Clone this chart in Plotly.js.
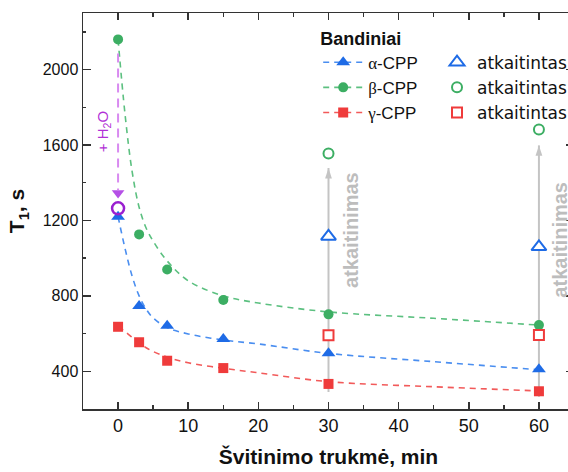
<!DOCTYPE html>
<html>
<head>
<meta charset="utf-8">
<script src="https://cdn.plot.ly/plotly-3.0.1.min.js"></script>
<style>
html, body { margin:0; padding:0; overflow:hidden; background:#fff; width:568px; height:472px; }
#chart { width:600px; height:472px; }
</style>
</head>
<body>
<div id="chart"></div>
<script>
// Irradiation time (min)
var timeMin = [0, 3, 7, 15, 30, 60];
// T1 (s) for each sample
var alphaT1 = [1220, 746, 642, 571, 495, 411];
var betaT1  = [2160, 1126, 940, 778, 702, 645];
var gammaT1 = [636, 554, 456, 417, 333, 294];

// Annealed samples
var annealTime = [30, 60];
var alphaAnneal = [1115, 1060];
var betaAnneal  = [1555, 1682];
var gammaAnneal = [591, 592];

// Fitted curves
var fitX     = [0, 1, 2, 3, 4, 5, 7, 10, 15, 20, 30, 45, 60];
var alphaFit = [1220, 1050, 905, 800, 730, 683, 632, 598, 566, 545, 495, 451, 408];
var betaFit  = [2160, 1760, 1460, 1270, 1160, 1090, 985, 880, 800, 762, 715, 681, 645];
var gammaFit = [636, 610, 580, 550, 525, 505, 475, 445, 416, 392, 345, 318, 296];

// Water addition at t = 0
var waterX = [0, 0];
var waterLine = [2085, 1362];
var waterArrowT1 = [1346];
var waterT1 = [1264];

// Annealing arrows
var annealArrowX = [30, 60];
var annealArrowFrom = [290, 265];
var annealArrowTo = [1478, 1598];

var xTicks = [0, 10, 20, 30, 40, 50, 60];
var yTicks = [400, 800, 1200, 1600, 2000];

var cBlue = '#1e6be6', cBlueL = '#4a8ef0';
var cGreen = '#3cae63', cGreenL = '#5cc080';
var cRed = '#ef3b3b', cRedL = '#f25a5a';
var cGray = '#c4c4c4';

var traces = [];
// fit curves
[[alphaFit, cBlueL], [betaFit, cGreenL], [gammaFit, cRedL]].forEach(function(p){
  traces.push({x: fitX, y: p[0], mode:'lines', line:{color:p[1], width:1.6, dash:'6px,5px', shape:'spline'}, showlegend:false, hoverinfo:'skip'});
});
// annealing arrows (lines)
annealArrowX.forEach(function(xv, i){
  traces.push({x:[xv, xv], y:[annealArrowFrom[i], annealArrowTo[i]], mode:'lines', line:{color:cGray, width:2}, showlegend:false, hoverinfo:'skip'});
});
traces.push({x: annealArrowX, y: annealArrowTo, mode:'markers', marker:{symbol:'arrow', size:11, color:cGray, line:{width:0}}, showlegend:false, hoverinfo:'skip'});
// water line
traces.push({x: waterX, y: waterLine, mode:'lines', line:{color:'#d88af0', width:2, dash:'9px,6px'}, showlegend:false, hoverinfo:'skip'});
traces.push({x: [0], y: waterArrowT1, mode:'markers', marker:{symbol:'triangle-down', size:11, color:'#b550e6'}, showlegend:false});
// data
traces.push({x: timeMin, y: alphaT1, mode:'markers', marker:{symbol:'triangle-up', size:12, color:cBlue}, showlegend:false});
traces.push({x: timeMin, y: betaT1, mode:'markers', marker:{symbol:'circle', size:10, color:cGreen}, showlegend:false});
traces.push({x: timeMin, y: gammaT1, mode:'markers', marker:{symbol:'square', size:10, color:cRed}, showlegend:false});
traces.push({x: [0], y: waterT1, mode:'markers', marker:{symbol:'circle-open', size:12, color:'#9a1fd0', line:{width:2.5}}, showlegend:false});
// legend entries (group 1)
traces.push({x:[null], y:[null], name:'<span style="font-family:Liberation Serif">α</span>-CPP', mode:'lines+markers', line:{color:cBlueL, width:1.6, dash:'6px,5px'}, marker:{symbol:'triangle-up', size:12, color:cBlue}});
traces.push({x:[null], y:[null], name:'<span style="font-family:Liberation Serif">β</span>-CPP', mode:'lines+markers', line:{color:cGreenL, width:1.6, dash:'6px,5px'}, marker:{symbol:'circle', size:10, color:cGreen}});
traces.push({x:[null], y:[null], name:'<span style="font-family:Liberation Serif">γ</span>-CPP', mode:'lines+markers', line:{color:cRedL, width:1.6, dash:'6px,5px'}, marker:{symbol:'square', size:10, color:cRed}});
// annealed (legend 2)
traces.push({x: annealTime, y: alphaAnneal, name:'atkaitintas', legend:'legend2', mode:'markers', marker:{symbol:'triangle-up', size:13, color:'#fff', line:{color:cBlue, width:2}}});
traces.push({x: annealTime, y: betaAnneal, name:'atkaitintas', legend:'legend2', mode:'markers', marker:{symbol:'circle', size:10, color:'#fff', line:{color:cGreen, width:2}}});
traces.push({x: annealTime, y: gammaAnneal, name:'atkaitintas', legend:'legend2', mode:'markers', marker:{symbol:'square', size:10, color:'#fff', line:{color:cRed, width:2}}});

var layout = {
  width: 600, height: 472,
  margin: {l:83, r:26, t:13, b:63},
  paper_bgcolor:'#fff', plot_bgcolor:'#fff',
  font: {family:'Liberation Sans, Arial, sans-serif', color:'#111'},
  xaxis: {
    range:[-5, 65], tickvals: xTicks, ticktext: xTicks.map(String),
    ticks:'inside', ticklen:7, tickwidth:1.5, tickcolor:'#333',
    minor:{dtick:5, ticks:'inside', ticklen:4, tickwidth:1.5, tickcolor:'#333'},
    showline:true, linecolor:'#333', linewidth:1.5, mirror:'ticks',
    showgrid:false, zeroline:false,
    tickfont:{size:18, color:'#111'},
    title:{text:'<b>Švitinimo trukmė, min</b>', font:{size:21, color:'#111'}, standoff:14}
  },
  yaxis: {
    range:[200, 2300], tickvals: yTicks, ticktext: yTicks.map(String),
    ticks:'inside', ticklen:8, tickwidth:1.5, tickcolor:'#333',
    minor:{dtick:200, ticks:'inside', ticklen:3, tickwidth:1.5, tickcolor:'#333'},
    showline:true, linecolor:'#333', linewidth:1.5, mirror:'ticks',
    showgrid:false, zeroline:false,
    tickfont:{size:16, color:'#111'},
    title:{text:'<b>T<sub>1</sub>, s</b>', font:{size:21, color:'#111'}, standoff:12}
  },
  legend: {
    x:0.479, y:0.979, xanchor:'left', yanchor:'top',
    bgcolor:'rgba(0,0,0,0)', borderwidth:0, itemwidth:40,
    font:{size:17, color:'#111'},
    title:{text:'<b>Bandiniai</b>', side:'top', font:{size:18, color:'#111'}}
  },
  legend2: {
    x:0.721, y:0.920, xanchor:'left', yanchor:'top',
    bgcolor:'rgba(0,0,0,0)', borderwidth:0, itemwidth:30,
    font:{size:17, family:'DejaVu Sans, sans-serif', color:'#111'}
  },
  annotations: [
    {x:-2.15, y:1673, xref:'x', yref:'y', text:'+ H<sub>2</sub>O', textangle:-90, showarrow:false, font:{size:15, color:'#b12fd6'}},
    {x:33.1, y:1151, xref:'x', yref:'y', text:'<b>atkaitinimas</b>', textangle:-90, showarrow:false, font:{size:20, color:'#bdbdbd'}},
    {x:63.0, y:1098, xref:'x', yref:'y', text:'<b>atkaitinimas</b>', textangle:-90, showarrow:false, font:{size:20, color:'#bdbdbd'}}
  ],
  showlegend:true
};

Plotly.newPlot('chart', traces, layout, {displayModeBar:false, staticPlot:true});
</script>
</body>
</html>
